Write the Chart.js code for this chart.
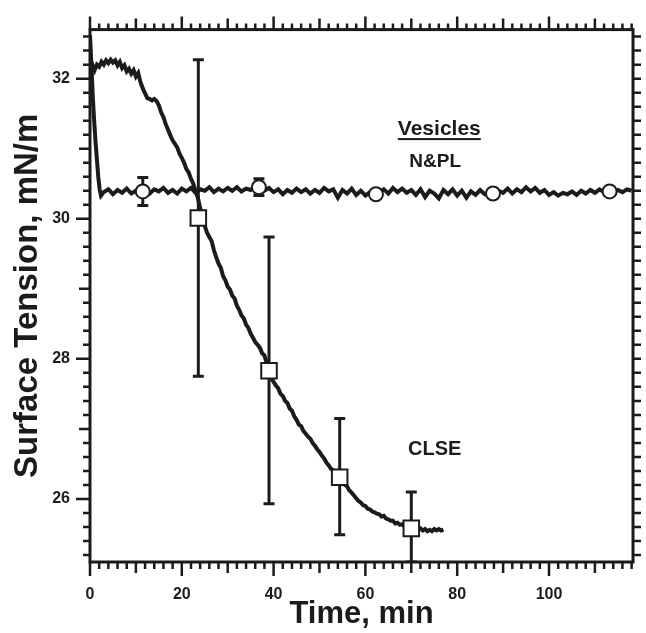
<!DOCTYPE html>
<html>
<head>
<meta charset="utf-8">
<script src="https://cdn.jsdelivr.net/npm/chart.js@4/dist/chart.umd.min.js"></script>
<style>
html, body { margin: 0; padding: 0; background: #ffffff; }
canvas { display: block; }
</style>
</head>
<body>
<canvas id="canvasTension" width="646" height="633"></canvas>
<script>
// tick labels
var xTickLabels = [0, 20, 40, 60, 80, 100];
var yTickLabels = [26, 28, 30, 32];

// CLSE trace (time in min, surface tension in mN/m)
var clseTime = [0, 0.5, 1, 1.5, 2, 2.5, 3, 3.5, 4, 4.5, 5, 5.5, 6, 6.5, 7, 7.5, 8, 8.5, 9, 9.5,
    10, 10.5, 11, 11.5, 12, 12.5, 13, 13.5, 14, 14.5, 15, 15.5, 16, 16.5, 17, 17.5, 18, 18.5, 19, 19.5,
    20, 20.5, 21, 21.5, 22, 22.5, 23, 23.5, 24, 24.5, 25, 25.5, 26, 26.5, 27, 27.5, 28, 28.5, 29, 29.5,
    30, 30.5, 31, 31.5, 32, 32.5, 33, 33.5, 34, 34.5, 35, 35.5, 36, 36.5, 37, 37.5, 38, 38.5, 39, 39.5,
    40, 40.5, 41, 41.5, 42, 42.5, 43, 43.5, 44, 44.5, 45, 45.5, 46, 46.5, 47, 47.5, 48, 48.5, 49, 49.5,
    50, 50.5, 51, 51.5, 52, 52.5, 53, 53.5, 54, 54.5, 55, 55.5, 56, 56.5, 57, 57.5, 58, 58.5, 59, 59.5,
    60, 60.5, 61, 61.5, 62, 62.5, 63, 63.5, 64, 64.5, 65, 65.5, 66, 66.5, 67, 67.5, 68, 68.5, 69, 69.5,
    70, 70.5, 71, 71.5, 72, 72.5, 73, 73.5, 74, 74.5, 75, 75.5, 76, 76.5, 77];
var clseTension = [32.30, 32.20, 32.12, 32.20, 32.17, 32.24, 32.20, 32.26, 32.22, 32.27, 32.23, 32.26, 32.19, 32.24, 32.15, 32.19, 32.10, 32.14, 32.07, 32.12,
    32.03, 32.08, 31.95, 31.86, 31.79, 31.72, 31.71, 31.69, 31.71, 31.68, 31.62, 31.52, 31.45, 31.35, 31.27, 31.19, 31.12, 31.07, 31.02, 30.93,
    30.87, 30.80, 30.71, 30.66, 30.57, 30.50, 30.39, 30.30, 30.15, 30.01, 29.90, 29.80, 29.74, 29.68, 29.55, 29.45, 29.36, 29.30, 29.18, 29.12,
    29.03, 28.99, 28.90, 28.86, 28.76, 28.70, 28.62, 28.58, 28.49, 28.44, 28.36, 28.30, 28.24, 28.20, 28.16, 28.08, 28.05, 27.94, 27.84, 27.72,
    27.67, 27.62, 27.58, 27.50, 27.47, 27.40, 27.37, 27.29, 27.26, 27.18, 27.13, 27.06, 27.04, 26.97, 26.93, 26.89, 26.86, 26.80, 26.76, 26.71,
    26.67, 26.62, 26.58, 26.52, 26.48, 26.43, 26.41, 26.36, 26.33, 26.30, 26.26, 26.20, 26.18, 26.12, 26.09, 26.05, 26.01, 25.97, 25.95, 25.91,
    25.90, 25.86, 25.85, 25.82, 25.81, 25.79, 25.78, 25.75, 25.76, 25.72, 25.71, 25.69, 25.69, 25.65, 25.66, 25.63, 25.64, 25.61, 25.62, 25.59,
    25.60, 25.58, 25.59, 25.56, 25.58, 25.55, 25.57, 25.54, 25.56, 25.54, 25.57, 25.55, 25.57, 25.55, 25.56];

// N&PL trace
var nplTime = [0, 0.3, 0.6, 0.9, 1.2, 1.5, 1.8, 2.1, 2.4,
    3, 4, 5, 6, 7, 8, 9, 10, 11, 12, 13, 14, 15, 16, 17, 18, 19, 20, 21, 22, 23, 24, 25, 26, 27, 28, 29, 30,
    31, 32, 33, 34, 35, 36, 37, 38, 39, 40, 41, 42, 43, 44, 45, 46, 47, 48, 49, 50, 51, 52, 53, 54, 55, 56, 57, 58, 59, 60,
    61, 62, 63, 64, 65, 66, 67, 68, 69, 70, 71, 72, 73, 74, 75, 76, 77, 78, 79, 80, 81, 82, 83, 84, 85, 86, 87, 88, 89, 90,
    91, 92, 93, 94, 95, 96, 97, 98, 99, 100, 101, 102, 103, 104, 105, 106, 107, 108, 109, 110, 111, 112, 113, 114, 115, 116, 117, 118];
var nplTension = [32.62, 32.20, 31.75, 31.40, 31.10, 30.85, 30.60, 30.42, 30.33,
    30.38, 30.42, 30.35, 30.41, 30.37, 30.43, 30.36, 30.40, 30.38, 30.41, 30.36, 30.42, 30.39, 30.44, 30.37, 30.41, 30.36, 30.43, 30.39, 30.44, 30.37, 30.42, 30.40, 30.45, 30.38, 30.43, 30.39, 30.44,
    30.40, 30.45, 30.39, 30.43, 30.41, 30.46, 30.44, 30.40, 30.44, 30.38, 30.42, 30.35, 30.41, 30.37, 30.43, 30.38, 30.42, 30.36, 30.41, 30.37, 30.44, 30.39, 30.42, 30.30, 30.41, 30.36, 30.43, 30.34, 30.40, 30.33,
    30.38, 30.35, 30.37, 30.42, 30.36, 30.44, 30.38, 30.43, 30.37, 30.41, 30.34, 30.42, 30.31, 30.40, 30.36, 30.29, 30.41, 30.35, 30.42, 30.33, 30.40, 30.30, 30.39, 30.34, 30.41, 30.35, 30.39, 30.36, 30.40, 30.37,
    30.43, 30.36, 30.42, 30.38, 30.45, 30.39, 30.44, 30.37, 30.41, 30.34, 30.38, 30.33, 30.37, 30.35, 30.39, 30.34, 30.40, 30.36, 30.41, 30.37, 30.42, 30.38, 30.40, 30.37, 30.41, 30.38, 30.42, 30.40];

// averaged points with error bars
var clseMeanTime = [23.6, 39.0, 54.4, 70.0];
var clseMean = [30.01, 27.83, 26.31, 25.58];
var clseLow = [27.75, 25.93, 25.49, 25.10];
var clseHigh = [32.27, 29.74, 27.15, 26.10];

var nplMeanTime = [11.5, 36.8, 62.3, 87.8, 113.2];
var nplMean = [30.39, 30.45, 30.35, 30.36, 30.39];
var nplLow = [30.19, 30.33, 30.35, 30.36, 30.39];
var nplHigh = [30.59, 30.57, 30.35, 30.36, 30.39];

// text inside the plot
var noteText = ['Vesicles', 'N&PL', 'CLSE'];
var noteTime = [76.1, 75.2, 75.1];
var noteTension = [31.28, 30.82, 26.70];

var INK = '#1c1a1b';
var FAMILY = '"Liberation Sans", Arial, Helvetica, sans-serif';

function toPoints(xs, ys) {
    return xs.map((x, i) => ({ x: x, y: ys[i] }));
}

var errorBars = {
    id: 'errorBars',
    beforeDatasetsDraw(chart) {
        var ctx = chart.ctx, xs = chart.scales.x, ys = chart.scales.y, area = chart.chartArea;
        ctx.save();
        ctx.beginPath();
        ctx.rect(area.left, area.top, area.right - area.left, area.bottom - area.top);
        ctx.clip();
        ctx.strokeStyle = INK;
        ctx.lineWidth = 3;
        var groups = [[clseMeanTime, clseLow, clseHigh], [nplMeanTime, nplLow, nplHigh]];
        groups.forEach(function (g) {
            g[0].forEach(function (t, i) {
                if (g[2][i] - g[1][i] <= 0) return;
                var px = xs.getPixelForValue(t);
                var lo = ys.getPixelForValue(g[1][i]);
                var hi = ys.getPixelForValue(g[2][i]);
                ctx.beginPath();
                ctx.moveTo(px, lo); ctx.lineTo(px, hi);
                ctx.moveTo(px - 5.5, lo); ctx.lineTo(px + 5.5, lo);
                ctx.moveTo(px - 5.5, hi); ctx.lineTo(px + 5.5, hi);
                ctx.stroke();
            });
        });
        ctx.restore();
    }
};

var frameAndNotes = {
    id: 'frameAndNotes',
    afterDraw(chart) {
        var ctx = chart.ctx, xs = chart.scales.x, ys = chart.scales.y, a = chart.chartArea;
        ctx.save();
        ctx.strokeStyle = INK;
        ctx.lineWidth = 3;
        ctx.strokeRect(a.left, a.top, a.right - a.left, a.bottom - a.top);

        ctx.lineWidth = 2.5;
        ctx.beginPath();
        // time ticks every 2 min, top and bottom
        for (var i = 0; i <= 118; i += 2) {
            var px = xs.getPixelForValue(i);
            var lb = i % 20 === 0 ? 14 : (i % 10 === 0 ? 11 : 7);
            var lt = i % 20 === 0 ? 13 : (i % 10 === 0 ? 11 : 6);
            ctx.moveTo(px, a.bottom); ctx.lineTo(px, a.bottom + lb);
            ctx.moveTo(px, a.top); ctx.lineTo(px, a.top - lt);
        }
        // tension ticks every 0.2, left and right
        for (var k = 126; k <= 163; k++) {
            var v = k / 5;
            var py = ys.getPixelForValue(v);
            var whole = k % 5 === 0;
            var ll = whole && (k / 5) % 2 === 0 ? 14 : (whole ? 11 : 7);
            ctx.moveTo(a.left, py); ctx.lineTo(a.left - ll, py);
            ctx.moveTo(a.right, py); ctx.lineTo(a.right + 8, py);
        }
        ctx.stroke();

        // notes
        ctx.fillStyle = INK;
        ctx.textAlign = 'center';
        ctx.textBaseline = 'middle';
        var sizes = [21, 19, 20];
        noteText.forEach(function (txt, j) {
            var nx = xs.getPixelForValue(noteTime[j]);
            var ny = ys.getPixelForValue(noteTension[j]);
            ctx.font = 'bold ' + sizes[j] + 'px ' + FAMILY;
            ctx.fillText(txt, nx, ny);
            if (j === 0) {
                var w = ctx.measureText(txt).width;
                ctx.fillRect(nx - w / 2, ny + 9, w, 2);
            }
        });
        ctx.restore();
    }
};

function drawGraphTension() {
    try {
        var config = {
            type: 'line',
            data: {
                datasets: [{
                    label: 'CLSE squares',
                    data: toPoints(clseMeanTime, clseMean),
                    showLine: false,
                    pointStyle: 'rect',
                    pointRadius: 11,
                    pointBackgroundColor: '#ffffff',
                    pointBorderColor: INK,
                    pointBorderWidth: 2,
                    order: 1
                }, {
                    label: 'N&PL circles',
                    data: toPoints(nplMeanTime, nplMean),
                    showLine: false,
                    pointStyle: 'circle',
                    pointRadius: 7,
                    pointBackgroundColor: '#ffffff',
                    pointBorderColor: INK,
                    pointBorderWidth: 2,
                    order: 1
                }, {
                    label: 'CLSE',
                    data: toPoints(clseTime, clseTension),
                    borderColor: INK,
                    borderWidth: 4,
                    pointRadius: 0,
                    tension: 0,
                    fill: false,
                    order: 2
                }, {
                    label: 'N&PL',
                    data: toPoints(nplTime, nplTension),
                    borderColor: INK,
                    borderWidth: 4,
                    pointRadius: 0,
                    tension: 0,
                    fill: false,
                    order: 2
                }]
            },
            options: {
                responsive: false,
                animation: false,
                devicePixelRatio: 1,
                layout: { padding: { top: 27, right: 7, left: 0, bottom: 0 } },
                plugins: {
                    legend: { display: false },
                    tooltip: { enabled: false }
                },
                scales: {
                    x: {
                        type: 'linear',
                        position: 'bottom',
                        min: 0,
                        max: 118.3,
                        grid: { display: false, drawTicks: false },
                        border: { display: false },
                        afterBuildTicks: function (s) { s.ticks = xTickLabels.map(v => ({ value: v })); },
                        afterFit: function (s) { s.height = 71; },
                        ticks: {
                            padding: 23,
                            autoSkip: false,
                            maxRotation: 0,
                            color: INK,
                            font: { family: FAMILY, size: 16, weight: 'bold' }
                        },
                        title: {
                            display: true,
                            text: 'Time, min',
                            color: INK,
                            padding: { top: 0, bottom: 0 },
                            font: { family: FAMILY, size: 31, weight: 'bold' }
                        }
                    },
                    y: {
                        type: 'linear',
                        position: 'left',
                        min: 25.1,
                        max: 32.7,
                        grid: { display: false, drawTicks: false },
                        border: { display: false },
                        afterBuildTicks: function (s) { s.ticks = yTickLabels.map(v => ({ value: v })); },
                        afterFit: function (s) { s.width = 90; },
                        ticks: {
                            padding: 20,
                            color: INK,
                            font: { family: FAMILY, size: 16, weight: 'bold' }
                        },
                        title: {
                            display: true,
                            text: 'Surface Tension, mN/m',
                            color: INK,
                            padding: { top: 8, bottom: 0 },
                            font: { family: FAMILY, size: 33, weight: 'bold' }
                        }
                    }
                }
            },
            plugins: [errorBars, frameAndNotes]
        };
        var ctx = document.getElementById('canvasTension').getContext('2d');
        new Chart(ctx, config);
    } catch (error) {
        document.body.appendChild(document.createTextNode('Error draw: ' + error));
    }
}

drawGraphTension();
</script>
</body>
</html>
